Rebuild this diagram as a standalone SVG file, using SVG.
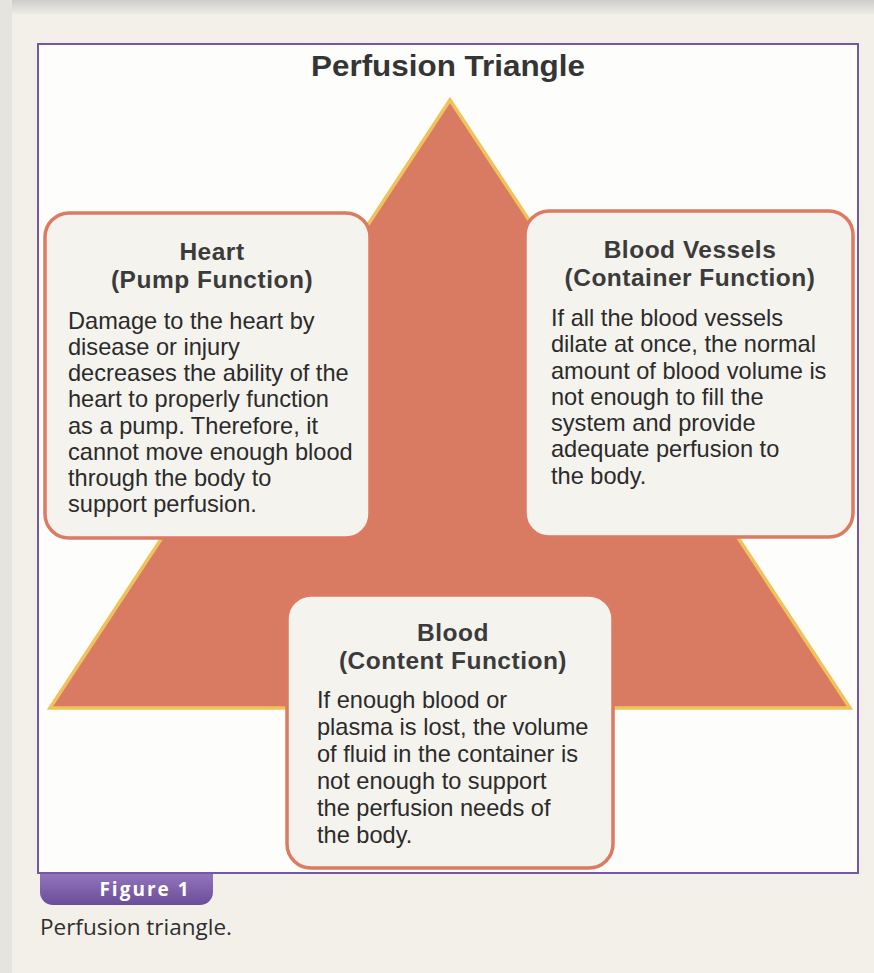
<svg xmlns="http://www.w3.org/2000/svg" width="874" height="973" viewBox="0 0 874 973">
<defs>
<linearGradient id="topStrip" x1="0" y1="0" x2="0" y2="1">
<stop offset="0" stop-color="#cfcdc9"/>
<stop offset="1" stop-color="#ecebe6"/>
</linearGradient>
<linearGradient id="tab" x1="0" y1="0" x2="0" y2="1">
<stop offset="0" stop-color="#9276bc"/>
<stop offset="1" stop-color="#6a4c98"/>
</linearGradient>
<style>
.box{fill:#f5f3ee;stroke:#dc7a62;stroke-width:3.5}
.hd{font-family:"Liberation Sans",Arial,sans-serif;font-weight:bold;font-size:24.5px;letter-spacing:0.5px;fill:#3b3b3b;text-anchor:middle}
.bd{font-family:"Liberation Sans",Arial,sans-serif;font-size:23.6px;fill:#2b2b2b}
</style>
</defs>
<rect x="0" y="0" width="874" height="973" fill="#f3f0ea"/>
<rect x="0" y="0" width="874" height="14" fill="url(#topStrip)"/>
<rect x="0" y="0" width="12" height="973" fill="#e6e4df"/>
<rect x="38" y="44" width="820" height="829" fill="#fdfdfb" stroke="#7458a6" stroke-width="2"/>
<g id="title">
<text x="448" y="76" font-family="'Liberation Sans',Arial,sans-serif" font-weight="bold" font-size="30" fill="#353535" text-anchor="middle" textLength="274" lengthAdjust="spacingAndGlyphs">Perfusion Triangle</text>
</g>
<g id="triangle">
<polygon points="450,100 850,708 50,708" fill="#d97a62" stroke="#f0c35a" stroke-width="3.5" stroke-linejoin="miter"/>
</g>
<g id="connectors"/>
<g id="node-heart">
<rect class="box" x="45" y="213" width="325" height="325" rx="24"/>
<text class="hd" x="212" y="260">Heart</text>
<text class="hd" x="212" y="288">(Pump Function)</text>
<text class="bd" x="68" y="329">Damage to the heart by</text>
<text class="bd" x="68" y="355">disease or injury</text>
<text class="bd" x="68" y="381">decreases the ability of the</text>
<text class="bd" x="68" y="407">heart to properly function</text>
<text class="bd" x="68" y="434">as a pump. Therefore, it</text>
<text class="bd" x="68" y="460">cannot move enough blood</text>
<text class="bd" x="68" y="486">through the body to</text>
<text class="bd" x="68" y="512">support perfusion.</text>
</g>
<g id="node-vessels">
<rect class="box" x="525" y="211" width="328" height="326" rx="24"/>
<text class="hd" x="690" y="258">Blood Vessels</text>
<text class="hd" x="690" y="286">(Container Function)</text>
<text class="bd" x="551" y="326">If all the blood vessels</text>
<text class="bd" x="551" y="352">dilate at once, the normal</text>
<text class="bd" x="551" y="379">amount of blood volume is</text>
<text class="bd" x="551" y="405">not enough to fill the</text>
<text class="bd" x="551" y="431">system and provide</text>
<text class="bd" x="551" y="457">adequate perfusion to</text>
<text class="bd" x="551" y="484">the body.</text>
</g>
<g id="node-blood">
<rect class="box" x="287" y="595" width="326" height="273" rx="24"/>
<text class="hd" x="453" y="641">Blood</text>
<text class="hd" x="453" y="669">(Content Function)</text>
<text class="bd" x="317" y="708">If enough blood or</text>
<text class="bd" x="317" y="735">plasma is lost, the volume</text>
<text class="bd" x="317" y="762">of fluid in the container is</text>
<text class="bd" x="317" y="789">not enough to support</text>
<text class="bd" x="317" y="816">the perfusion needs of</text>
<text class="bd" x="317" y="843">the body.</text>
</g>
<g id="caption">
<path d="M40,874 H213 V892 A13,13 0 0 1 200,905 H53 A13,13 0 0 1 40,892 Z" fill="url(#tab)"/>
<text x="145" y="896" font-family="'Open Sans','DejaVu Sans',sans-serif" font-weight="bold" font-size="19" letter-spacing="2" fill="#ffffff" text-anchor="middle">Figure 1</text>
<text x="40" y="935" font-family="'Open Sans','DejaVu Sans',sans-serif" font-size="22.5" fill="#2f2f2f">Perfusion triangle.</text>
</g>
</svg>
